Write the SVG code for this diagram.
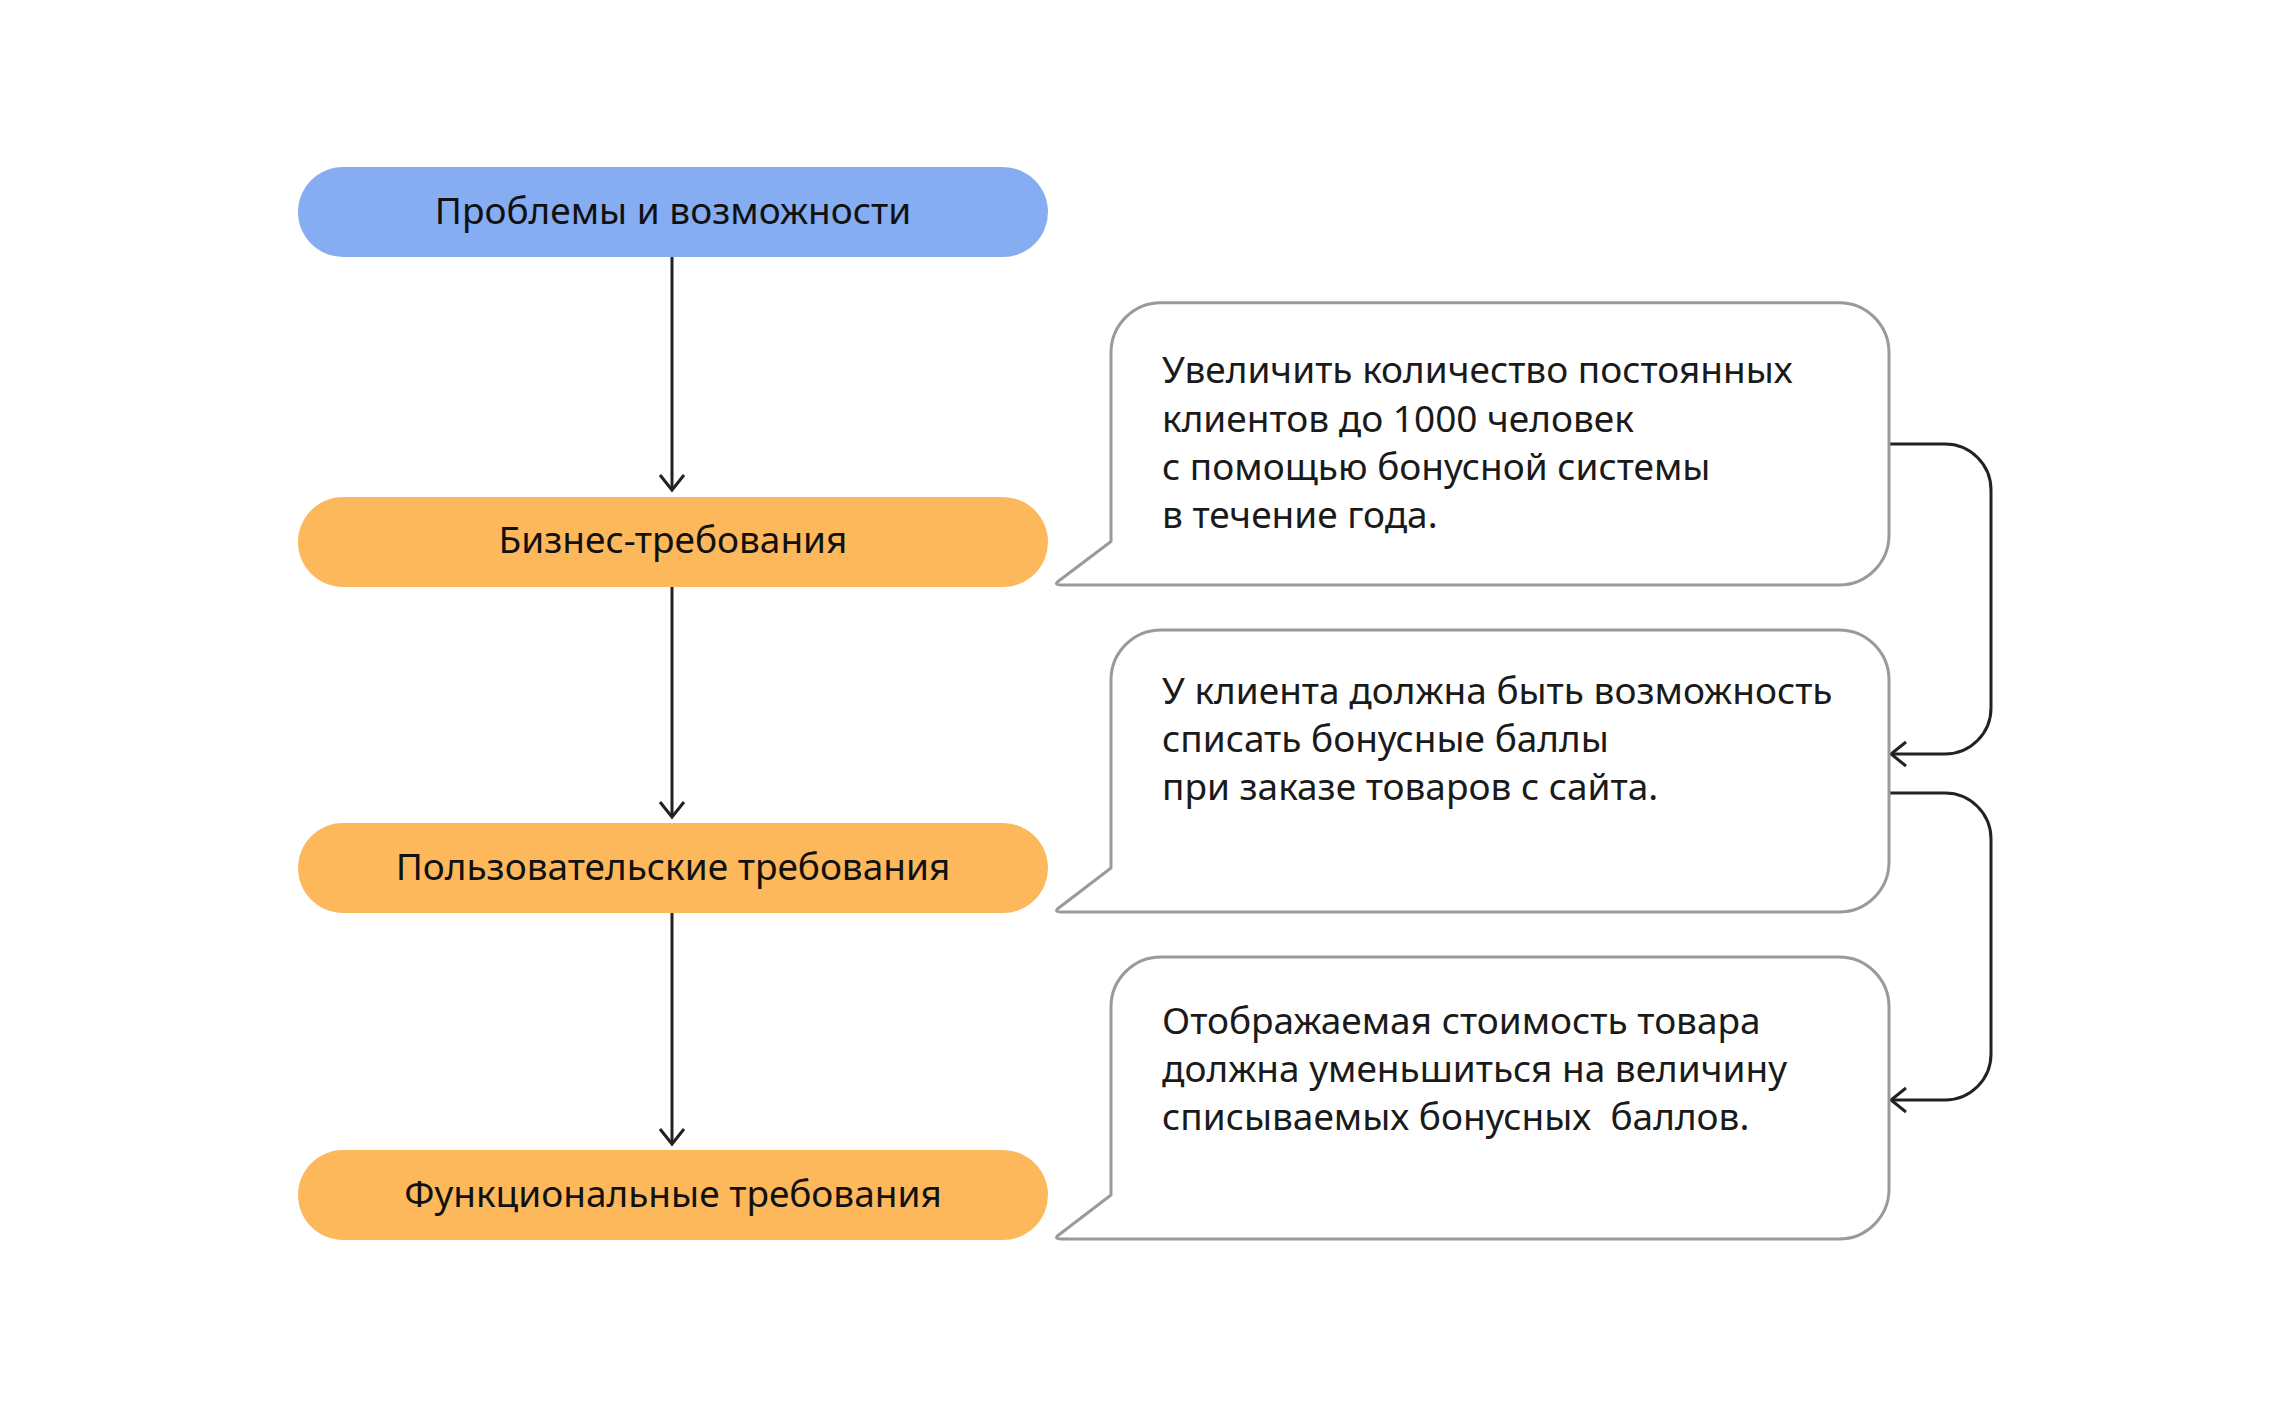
<svg xmlns="http://www.w3.org/2000/svg" width="2292" height="1408" viewBox="0 0 2292 1408">
<defs>
<style>
.pill-blue{fill:#86ACF1}
.pill-or{fill:#FEB85C}
.pt{font-family:"Noto Sans","Open Sans","DejaVu Sans",sans-serif;font-size:37px;fill:#111;text-anchor:middle}
.ct{font-family:"Noto Sans","Open Sans","DejaVu Sans",sans-serif;font-size:37px;fill:#1a1a1a}
.callout{fill:#fff;stroke:#9a9a9a;stroke-width:3;stroke-linejoin:round}
.conn{fill:none;stroke:#222;stroke-width:3}
</style>
<marker id="arr" markerUnits="userSpaceOnUse" viewBox="-20 -16 24 32" refX="0" refY="0" markerWidth="24" markerHeight="32" orient="auto" overflow="visible">
<path d="M -15 -12 L 0 0 L -15 12" fill="none" stroke="#222" stroke-width="3"/>
</marker>
</defs>
<rect width="2292" height="1408" fill="#fff"/>
<g id="connectors">
<path class="conn" d="M 672 257 L 672 490" marker-end="url(#arr)"/>
<path class="conn" d="M 672 587 L 672 817" marker-end="url(#arr)"/>
<path class="conn" d="M 672 913 L 672 1144" marker-end="url(#arr)"/>
<path class="conn" d="M 1889 444 L 1945 444 A 46 46 0 0 1 1991 490 L 1991 708 A 46 46 0 0 1 1945 754 L 1891 754" marker-end="url(#arr)"/>
<path class="conn" d="M 1889 793 L 1945 793 A 46 46 0 0 1 1991 839 L 1991 1054 A 46 46 0 0 1 1945 1100 L 1891 1100" marker-end="url(#arr)"/>
</g>
<g id="node-problems">
<rect class="pill-blue" x="298" y="167" width="750" height="90" rx="45"/>
<text class="pt" x="673" y="224">Проблемы и возможности</text>
</g>
<g id="node-business">
<rect class="pill-or" x="298" y="497" width="750" height="90" rx="45"/>
<text class="pt" x="673" y="553">Бизнес-требования</text>
</g>
<g id="node-user">
<rect class="pill-or" x="298" y="823" width="750" height="90" rx="45"/>
<text class="pt" x="673" y="880">Пользовательские требования</text>
</g>
<g id="node-functional">
<rect class="pill-or" x="298" y="1150" width="750" height="90" rx="45"/>
<text class="pt" x="673" y="1207">Функциональные требования</text>
</g>
<g id="callout-business">
<path class="callout" d="M 1111 541.5 L 1111 352.7 A 50 50 0 0 1 1161 302.7 L 1839 302.7 A 50 50 0 0 1 1889 352.7 L 1889 535 A 50 50 0 0 1 1839 585 L 1061 585 Q 1054 585 1058 581.5 Z"/>
<text class="ct" x="1162" y="383">Увеличить количество постоянных</text>
<text class="ct" x="1162" y="431.5">клиентов до 1000 человек</text>
<text class="ct" x="1162" y="480">с помощью бонусной системы</text>
<text class="ct" x="1162" y="528">в течение года.</text>
</g>
<g id="callout-user">
<path class="callout" d="M 1111 868 L 1111 680 A 50 50 0 0 1 1161 630 L 1839 630 A 50 50 0 0 1 1889 680 L 1889 862 A 50 50 0 0 1 1839 912 L 1061 912 Q 1054 912 1058 908.5 Z"/>
<text class="ct" x="1162" y="704">У клиента должна быть возможность</text>
<text class="ct" x="1162" y="752">списать бонусные баллы</text>
<text class="ct" x="1162" y="800">при заказе товаров с сайта.</text>
</g>
<g id="callout-functional">
<path class="callout" d="M 1111 1195 L 1111 1007 A 50 50 0 0 1 1161 957 L 1839 957 A 50 50 0 0 1 1889 1007 L 1889 1189 A 50 50 0 0 1 1839 1239 L 1061 1239 Q 1054 1239 1058 1235.5 Z"/>
<text class="ct" x="1162" y="1034">Отображаемая стоимость товара</text>
<text class="ct" x="1162" y="1082">должна уменьшиться на величину</text>
<text class="ct" x="1162" y="1130" xml:space="preserve">списываемых бонусных  баллов.</text>
</g>
</svg>
